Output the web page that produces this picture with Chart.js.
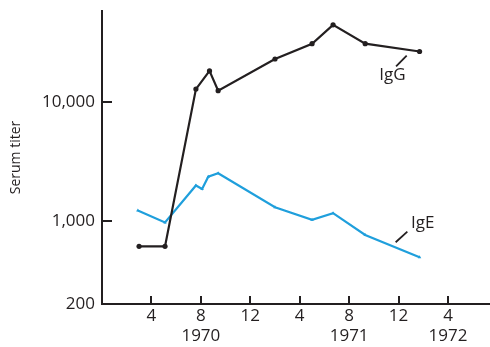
<!DOCTYPE html>
<html><head><meta charset="utf-8">
<script src="https://cdn.jsdelivr.net/npm/chart.js@4.4.1/dist/chart.umd.min.js"></script>
<style>html,body{margin:0;padding:0;background:#fff;}#wrap{width:490px;height:347px;position:relative;}</style>
</head><body><div id="wrap"><canvas id="c" width="490" height="347"></canvas></div>
<script>
// Months counted from start of 1970 (4 = April 1970, 16 = April 1971, ...)
const igGMonths = [3.0, 5.1, 7.6, 8.7, 9.4, 14.0, 17.0, 18.7, 21.3, 25.7];
const igGTiter  = [610, 610, 12800, 18200, 12400, 22900, 30800, 44400, 30800, 26500];
const igEMonths = [2.9, 5.1, 7.6, 8.1, 8.6, 9.4, 14.0, 17.0, 18.7, 21.3, 25.7];
const igETiter  = [1220, 970, 1980, 1850, 2350, 2510, 1300, 1020, 1160, 760, 495];

const xTickValues = [4, 8, 12, 16, 20, 24, 28];
const xTickLabels = ['4', '8', '12', '4', '8', '12', '4'];
const xYearLabels = ['', '1970', '', '', '1971', '', '1972'];
const yTickValues = [200, 1000, 10000];
const yTickLabels = ['200', '1,000', '10,000'];
const seriesNames = ['IgG', 'IgE'];

const FONT = "'Open Sans', 'Noto Sans', sans-serif";
const INK = '#231f20';
const BLUE = '#1f9fdc';

const labelAnchors = [
  {text: seriesNames[0], x: 23.5, y: 16900, line: [3.7, -8.3, 14.3, -19]},
  {text: seriesNames[1], x: 25.95, y: 960, line: [-27, 19.3, -15.3, 8.7]}
];

const zeroPad = s => { s.paddingTop = 0; s.paddingBottom = 0; s.paddingLeft = 0; s.paddingRight = 0; };

const decor = {
  id: 'decor',
  afterDraw(chart) {
    const ctx = chart.ctx;
    const xs = chart.scales.x, ys = chart.scales.y;
    const area = chart.chartArea;
    ctx.save();
    ctx.strokeStyle = INK;
    ctx.lineWidth = 2;
    ctx.beginPath();
    xTickValues.forEach(v => {
      const px = Math.round(xs.getPixelForValue(v));
      ctx.moveTo(px, area.bottom);
      ctx.lineTo(px, area.bottom - 8);
    });
    yTickValues.forEach(v => {
      if (v === ys.min) return;
      const py = Math.round(ys.getPixelForValue(v));
      ctx.moveTo(area.left, py);
      ctx.lineTo(area.left + 10, py);
    });
    ctx.stroke();
    ctx.fillStyle = INK;
    ctx.font = '17px ' + FONT;
    ctx.textAlign = 'center';
    ctx.textBaseline = 'middle';
    ctx.lineWidth = 1.8;
    labelAnchors.forEach(l => {
      const px = xs.getPixelForValue(l.x), py = ys.getPixelForValue(l.y);
      ctx.fillText(l.text, px, py);
      ctx.beginPath();
      ctx.moveTo(px + l.line[0], py + l.line[1]);
      ctx.lineTo(px + l.line[2], py + l.line[3]);
      ctx.stroke();
    });
    ctx.restore();
  }
};

new Chart(document.getElementById('c'), {
  type: 'line',
  data: {
    datasets: [
      {
        label: seriesNames[0],
        data: igGMonths.map((m, i) => ({x: m, y: igGTiter[i]})),
        borderColor: INK, backgroundColor: INK, borderWidth: 2.2,
        pointRadius: 2.6, pointStyle: 'circle', pointBorderWidth: 0, tension: 0
      },
      {
        label: seriesNames[1],
        data: igEMonths.map((m, i) => ({x: m, y: igETiter[i]})),
        borderColor: BLUE, backgroundColor: BLUE, borderWidth: 2.2,
        pointRadius: 2, pointStyle: 'triangle', pointBorderWidth: 0, tension: 0
      }
    ]
  },
  options: {
    responsive: false, animation: false, devicePixelRatio: 1,
    layout: {autoPadding: false, padding: {top: 11, left: 0, right: 0, bottom: 0}},
    plugins: {legend: {display: false}, tooltip: {enabled: false}},
    scales: {
      x: {
        type: 'linear', min: 0, max: 31.4,
        afterBuildTicks: s => { s.ticks = xTickValues.map(v => ({value: v})); },
        afterFit: s => { s.height = 43; zeroPad(s); },
        grid: {display: true, drawOnChartArea: false, drawTicks: false},
        border: {display: true, color: INK, width: 2},
        ticks: {
          autoSkip: false, maxRotation: 0, padding: 2, color: INK,
          font: {family: FONT, size: 17, lineHeight: 20 / 17},
          callback: v => {
            const i = xTickValues.indexOf(v);
            return xYearLabels[i] ? [xTickLabels[i], xYearLabels[i]] : xTickLabels[i];
          }
        }
      },
      y: {
        type: 'logarithmic', min: 200, max: 58000,
        afterBuildTicks: s => { s.ticks = yTickValues.map(v => ({value: v})); },
        afterFit: s => { s.width = 102; zeroPad(s); },
        grid: {display: true, drawOnChartArea: false, drawTicks: false},
        border: {display: true, color: INK, width: 2},
        ticks: {
          padding: 7, color: INK, font: {family: FONT, size: 17},
          callback: v => yTickLabels[yTickValues.indexOf(v)]
        },
        title: {
          display: true, text: 'Serum titer', color: INK,
          font: {family: FONT, size: 14}, padding: {top: 8, bottom: 0}
        }
      }
    }
  },
  plugins: [decor]
});
</script></body></html>
